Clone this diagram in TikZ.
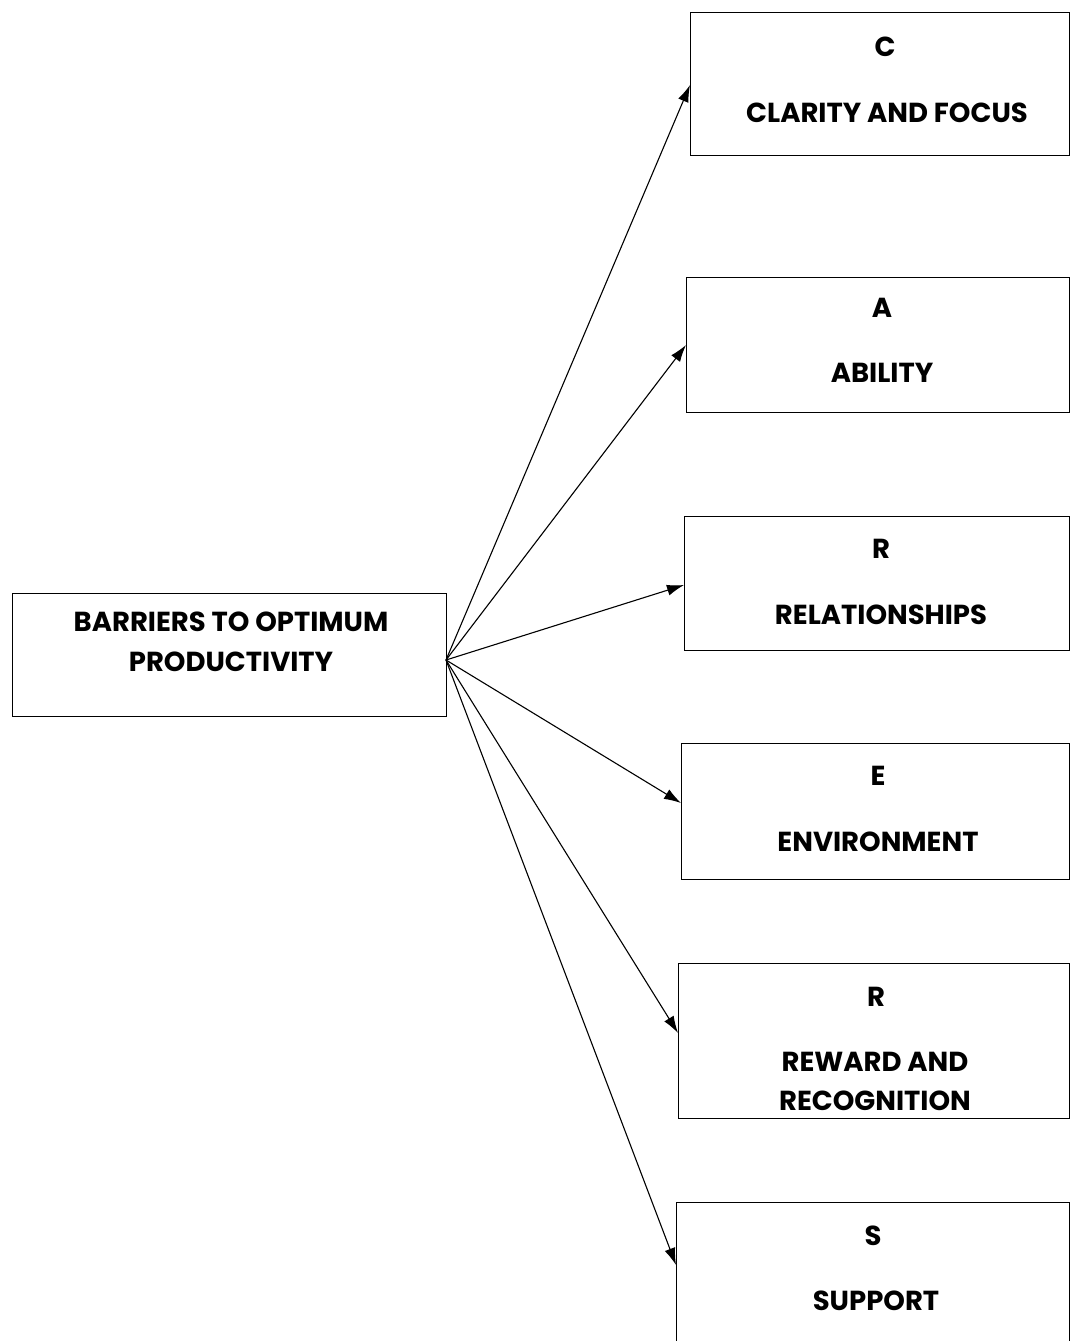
\documentclass[tikz,border=0pt]{standalone}
\usepackage{fontspec}
\setmainfont{Poppins}
\usetikzlibrary{arrows.meta}
\begin{document}
\begin{tikzpicture}[x=1pt,y=-1pt,
  box/.style={draw=black,line width=1.4pt,rectangle,inner sep=0pt,anchor=north west},
  lbl/.style={font=\fontsize{27.5}{32}\selectfont\bfseries,anchor=center,inner sep=0pt,align=center},
  conn/.style={line width=1.1pt,-{Latex[length=17pt,width=11pt]}}]
\useasboundingbox (0,0) rectangle (1070,1341);
\clip (0,0) rectangle (1070,1341);
% main box
\node[box,minimum width=434pt,minimum height=123pt] (main) at (12,593) {};
\node[lbl] (mainA) at (231,622) {BARRIERS TO OPTIMUM};
\node[lbl] (mainB) at (231,662) {PRODUCTIVITY};
% right boxes
\node[box,minimum width=379pt,minimum height=143pt] (bc) at (690,12) {};
\node[box,minimum width=383pt,minimum height=135pt] (ba) at (686,277) {};
\node[box,minimum width=385pt,minimum height=134pt] (br) at (684,516) {};
\node[box,minimum width=388pt,minimum height=136pt] (be) at (681,743) {};
\node[box,minimum width=391pt,minimum height=155pt] (brr) at (678,963) {};
\node[box,minimum width=393pt,minimum height=160pt] (bs) at (676,1202) {};
% labels
\node[lbl] (tc1) at (885,47) {C};
\node[lbl] (tc2) at (887,113) {CLARITY AND FOCUS};
\node[lbl] (ta1) at (882,308) {A};
\node[lbl] (ta2) at (882,373) {ABILITY};
\node[lbl] (tr1) at (881,549) {R};
\node[lbl] (tr2) at (881,615) {RELATIONSHIPS};
\node[lbl] (te1) at (878,776) {E};
\node[lbl] (te2) at (878,842) {ENVIRONMENT};
\node[lbl] (trr1) at (876,997) {R};
\node[lbl] (trr2) at (875,1062) {REWARD AND};
\node[lbl] (trr3) at (875,1101) {RECOGNITION};
\node[lbl] (ts1) at (873,1236) {S};
\node[lbl] (ts2) at (876,1301) {SUPPORT};
% connectors
\coordinate (hub) at (446,660);
\coordinate (ec) at (690,85);
\coordinate (ea) at (686,345);
\coordinate (er) at (684,585);
\coordinate (ee) at (681,803);
\coordinate (err) at (678,1033);
\coordinate (es) at (676,1265);
\draw[conn] (hub) -- (ec);
\draw[conn] (hub) -- (ea);
\draw[conn] (hub) -- (er);
\draw[conn] (hub) -- (ee);
\draw[conn] (hub) -- (err);
\draw[conn] (hub) -- (es);
\end{tikzpicture}
\end{document}
